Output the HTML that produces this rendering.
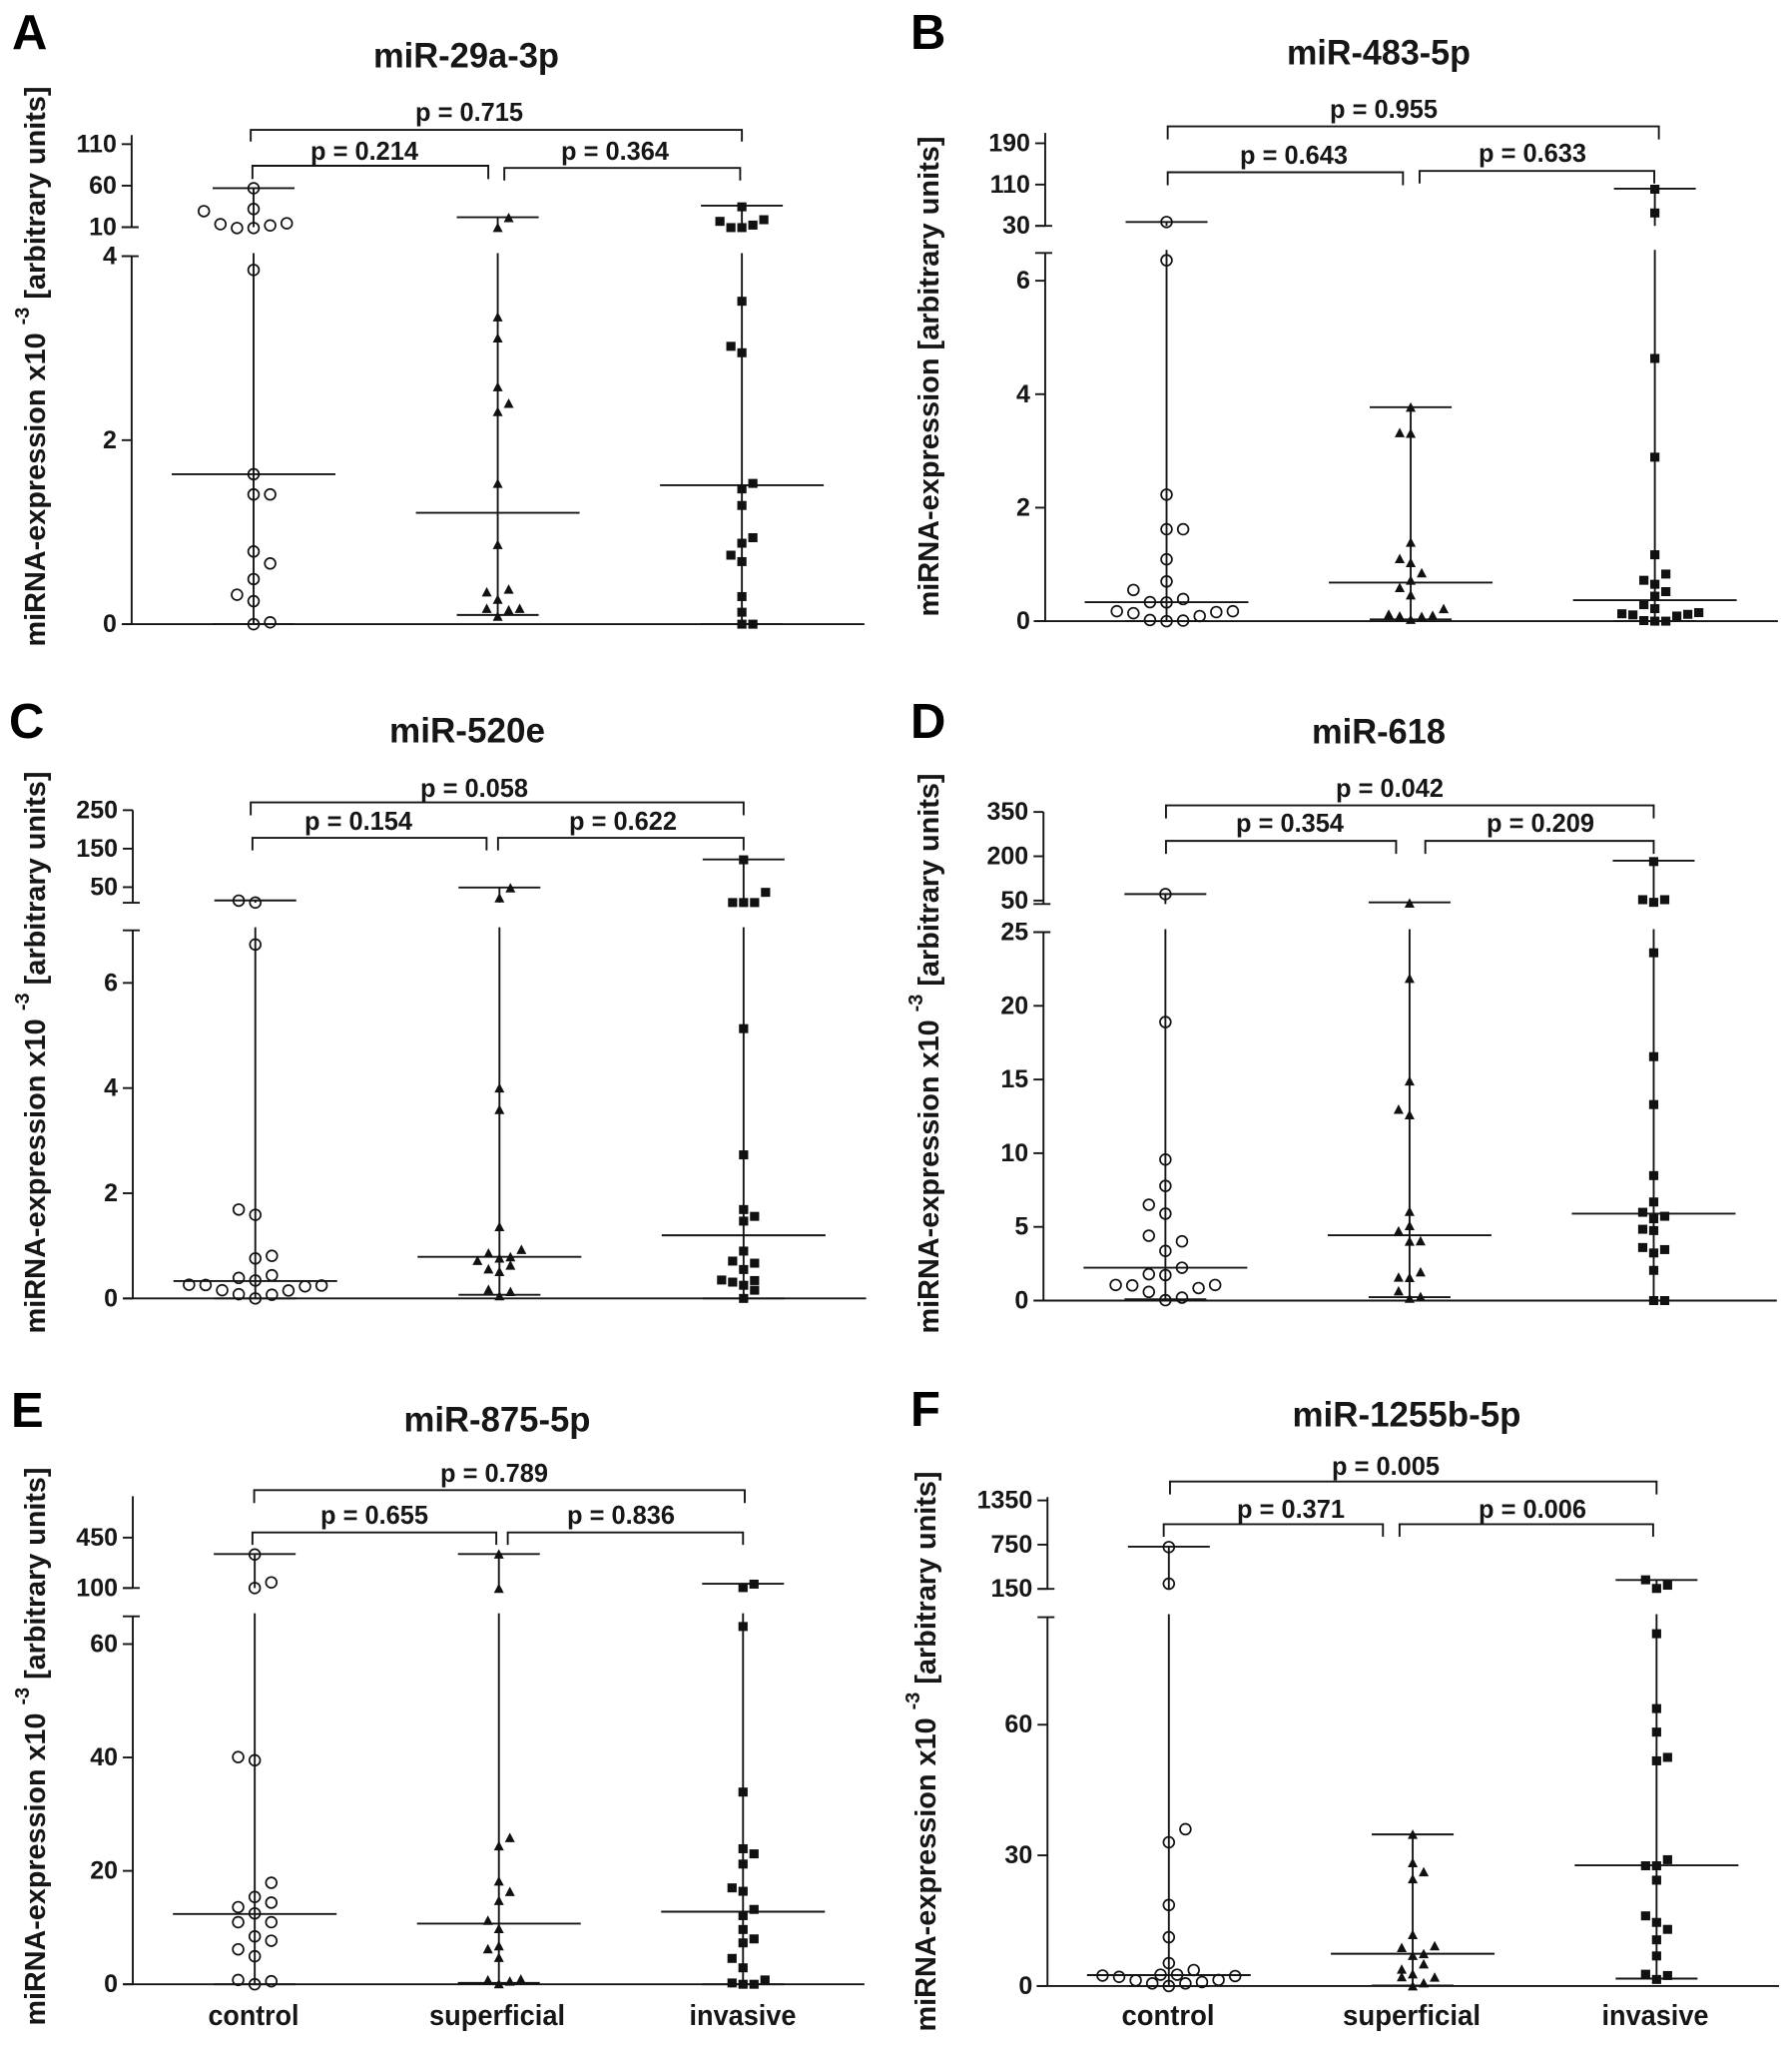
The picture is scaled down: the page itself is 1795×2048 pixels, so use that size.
<!DOCTYPE html>
<html lang="en">
<head>
<meta charset="utf-8">
<title>miRNA expression by tumour group</title>
<style>
html,body{margin:0;padding:0;background:#fff;}
svg{display:block;}
text{font-family:"Liberation Sans",Arial,sans-serif;font-weight:bold;fill:#161616;}
.letter{font-size:49px;fill:#000;}
.title{font-size:35px;text-anchor:middle;dominant-baseline:central;transform:translateY(-1px);}
.p{font-size:26px;text-anchor:middle;dominant-baseline:central;transform:translateY(1px);}
.yl{font-size:29px;text-anchor:middle;}
.xl{font-size:29px;text-anchor:middle;}
.tick{font-size:25px;text-anchor:end;dominant-baseline:central;}
</style>
</head>
<body>
<svg id="fig" width="1795" height="2048" viewBox="0 0 1795 2048" xmlns="http://www.w3.org/2000/svg">
<rect width="1795" height="2048" fill="#fff"/>

<text class="letter" x="12" y="49">A</text>
<text class="title" x="467" y="57" textLength="186" lengthAdjust="spacingAndGlyphs">miR-29a-3p</text>
<text class="yl" transform="translate(45,367) rotate(-90)" textLength="561" lengthAdjust="spacingAndGlyphs">miRNA-expression x10 <tspan font-size="20" dy="-16">-3</tspan><tspan dy="16">  [arbitrary units]</tspan></text>
<text class="p" x="470" y="111" textLength="108" lengthAdjust="spacingAndGlyphs">p = 0.715</text>
<text class="p" x="365" y="150" textLength="108" lengthAdjust="spacingAndGlyphs">p = 0.214</text>
<text class="p" x="616" y="150" textLength="108" lengthAdjust="spacingAndGlyphs">p = 0.364</text>

<text class="letter" x="912" y="49">B</text>
<text class="title" x="1381" y="54" textLength="184" lengthAdjust="spacingAndGlyphs">miR-483-5p</text>
<text class="yl" transform="translate(940,377) rotate(-90)" textLength="481" lengthAdjust="spacingAndGlyphs">miRNA-expression [arbitrary units]</text>
<text class="p" x="1386" y="108" textLength="108" lengthAdjust="spacingAndGlyphs">p = 0.955</text>
<text class="p" x="1296" y="154" textLength="108" lengthAdjust="spacingAndGlyphs">p = 0.643</text>
<text class="p" x="1535" y="152" textLength="108" lengthAdjust="spacingAndGlyphs">p = 0.633</text>

<text class="letter" x="9" y="739">C</text>
<text class="title" x="468" y="733" textLength="156" lengthAdjust="spacingAndGlyphs">miR-520e</text>
<text class="yl" transform="translate(45,1054) rotate(-90)" textLength="563" lengthAdjust="spacingAndGlyphs">miRNA-expression x10 <tspan font-size="20" dy="-16">-3</tspan><tspan dy="16">  [arbitrary units]</tspan></text>
<text class="p" x="475" y="788" textLength="108" lengthAdjust="spacingAndGlyphs">p = 0.058</text>
<text class="p" x="359" y="821" textLength="108" lengthAdjust="spacingAndGlyphs">p = 0.154</text>
<text class="p" x="624" y="821" textLength="108" lengthAdjust="spacingAndGlyphs">p = 0.622</text>

<text class="letter" x="912" y="739">D</text>
<text class="title" x="1381" y="734" textLength="134" lengthAdjust="spacingAndGlyphs">miR-618</text>
<text class="yl" transform="translate(940,1055) rotate(-90)" textLength="561" lengthAdjust="spacingAndGlyphs">miRNA-expression x10 <tspan font-size="20" dy="-16">-3</tspan><tspan dy="16">  [arbitrary units]</tspan></text>
<text class="p" x="1392" y="788" textLength="108" lengthAdjust="spacingAndGlyphs">p = 0.042</text>
<text class="p" x="1292" y="823" textLength="108" lengthAdjust="spacingAndGlyphs">p = 0.354</text>
<text class="p" x="1543" y="823" textLength="108" lengthAdjust="spacingAndGlyphs">p = 0.209</text>

<text class="letter" x="11" y="1429">E</text>
<text class="title" x="498" y="1423" textLength="187" lengthAdjust="spacingAndGlyphs">miR-875-5p</text>
<text class="yl" transform="translate(45,1749) rotate(-90)" textLength="559" lengthAdjust="spacingAndGlyphs">miRNA-expression x10 <tspan font-size="20" dy="-16">-3</tspan><tspan dy="16">  [arbitrary units]</tspan></text>
<text class="p" x="495" y="1474" textLength="108" lengthAdjust="spacingAndGlyphs">p = 0.789</text>
<text class="p" x="375" y="1516" textLength="108" lengthAdjust="spacingAndGlyphs">p = 0.655</text>
<text class="p" x="622" y="1516" textLength="108" lengthAdjust="spacingAndGlyphs">p = 0.836</text>
<text class="xl" x="254" y="2028" textLength="91" lengthAdjust="spacingAndGlyphs">control</text>
<text class="xl" x="498" y="2028" textLength="136" lengthAdjust="spacingAndGlyphs">superficial</text>
<text class="xl" x="744" y="2028" textLength="107" lengthAdjust="spacingAndGlyphs">invasive</text>

<text class="letter" x="912" y="1428">F</text>
<text class="title" x="1409" y="1418" textLength="229" lengthAdjust="spacingAndGlyphs">miR-1255b-5p</text>
<text class="yl" transform="translate(937,1754) rotate(-90)" textLength="561" lengthAdjust="spacingAndGlyphs">miRNA-expression x10 <tspan font-size="20" dy="-16">-3</tspan><tspan dy="16">  [arbitrary units]</tspan></text>
<text class="p" x="1388" y="1467" textLength="108" lengthAdjust="spacingAndGlyphs">p = 0.005</text>
<text class="p" x="1293" y="1510" textLength="108" lengthAdjust="spacingAndGlyphs">p = 0.371</text>
<text class="p" x="1535" y="1510" textLength="108" lengthAdjust="spacingAndGlyphs">p = 0.006</text>
<text class="xl" x="1170" y="2028" textLength="93" lengthAdjust="spacingAndGlyphs">control</text>
<text class="xl" x="1414" y="2028" textLength="138" lengthAdjust="spacingAndGlyphs">superficial</text>
<text class="xl" x="1658" y="2028" textLength="107" lengthAdjust="spacingAndGlyphs">invasive</text>
</svg>

<script>
// ---- Panel A: miR-29a-3p ----
const aLowTicks = [0, 2, 4];
const aHighTicks = [10, 60, 110];
const aControlValues = [3.85, 1.63, 1.41, 1.41, 0.79, 0.66, 0.49, 0.32, 0.25, 0.0, 0.02, 56.9, 31.9, 29.3, 13.6, 9, 9, 12.1, 14.7];
const aControlSlots = [0, 0, 0, 1, 0, 1, 0, -1, 0, 0, 1, 0, 0, -3, -2, -1, 0, 1, 2];
const aSuperficialValues = [3.34, 3.11, 2.58, 2.40, 2.31, 1.53, 0.865, 0.38, 0.35, 0.27, 0.17, 0.155, 0.17, 0.085, 21.5, 9.5];
const aSuperficialSlots = [0, 0, 0, 1, 0, 0, 0, 1, -1, 0, -1, 1, 2, 0, 1, 0];
const aInvasiveValues = [3.51, 3.02, 2.95, 1.53, 1.47, 1.29, 0.94, 0.88, 0.75, 0.68, 0.30, 0.13, 0, 0, 34.5, 17, 9.5, 9.5, 12.5, 19];
const aInvasiveSlots = [0, -1, 0, 1, 0, 0, 1, 0, -1, 0, 0, 0, 0, 1, 0, -2, -1, 0, 1, 2];
const aMedians = [1.63, 1.21, 1.51];
const aMins = [0, 0.10, 0];
const aMaxs = [57, 22, 36];

// ---- Panel B: miR-483-5p ----
const bLowTicks = [0, 2, 4, 6];
const bHighTicks = [30, 110, 190];
const bControlValues = [37.5, 6.36, 2.23, 1.62, 1.62, 1.09, 0.70, 0.55, 0.335, 0.33, 0.39, 0.175, 0.14, 0.02, 0, 0.01, 0.09, 0.16, 0.175];
const bControlSlots = [0, 0, 0, 0, 1, 0, 0, -2, -1, 0, 1, -3, -2, -1, 0, 1, 2, 3, 4];
const bSuperficialValues = [3.77, 3.31, 3.32, 1.39, 1.10, 1.03, 0.85, 0.72, 0.59, 0.46, 0.22, 0.12, 0.09, 0.03, 0.08, 0.10];
const bSuperficialSlots = [0, 0, -1, 0, -1, 0, 1, 0, -1, 0, 3, -2, -1, 0, 1, 2];
const bInvasiveValues = [101, 55, 4.63, 2.89, 1.17, 0.83, 0.72, 0.65, 0.52, 0.44, 0.29, 0.22, 0.13, 0.11, 0.01, 0, 0, 0.09, 0.12, 0.15];
const bInvasiveSlots = [0, 0, 0, 0, 0, 1, -1, 0, 1, 0, -1, 0, -3, -2, -1, 0, 1, 2, 3, 4];
const bMedians = [0.335, 0.68, 0.37];
const bMins = [0, 0.03, 0];
const bMaxs = [37.5, 3.77, 102];

// ---- Panel C: miR-520e ----
const cLowTicks = [0, 2, 4, 6];
const cHighTicks = [50, 150, 250];
const cControlValues = [15, 10, 6.73, 1.69, 1.59, 0.81, 0.76, 0.44, 0.39, 0.34, 0.26, 0.255, 0.156, 0.08, 0, 0.07, 0.15, 0.23, 0.245];
const cControlSlots = [-1, 0, 0, -1, 0, 1, 0, 1, -1, 0, -4, -3, -2, -1, 0, 1, 2, 3, 4];
const cSuperficialValues = [48, 22, 4.0, 3.59, 1.365, 0.93, 0.86, 0.79, 0.765, 0.72, 0.63, 0.56, 0.51, 0.17, 0.13, 0.05];
const cSuperficialSlots = [1, 0, 0, 0, 0, 2, -1, 1, 0, -2, 1, -1, 0, -1, 1, 0];
const cInvasiveValues = [121, 36.5, 10, 10, 10, 5.13, 2.73, 1.69, 1.56, 1.47, 0.90, 0.71, 0.67, 0.55, 0.35, 0.31, 0.34, 0.25, 0.156, 0];
const cInvasiveSlots = [0, 2, -1, 0, 1, 0, 0, 0, 1, 0, 0, -1, 1, 0, -2, -1, 1, 0, 1, 0];
const cMedians = [0.33, 0.79, 1.2];
const cMins = [0, 0.07, 0];
const cMaxs = [15.5, 49, 122];

// ---- Panel D: miR-618 ----
const dLowTicks = [0, 5, 10, 15, 20, 25];
const dHighTicks = [50, 200, 350];
const dControlValues = [72, 18.9, 9.57, 7.78, 6.5, 5.9, 4.4, 4.02, 3.37, 2.23, 1.79, 1.73, 1.06, 1.03, 0.59, 0.03, 0.2, 0.85, 1.06];
const dControlSlots = [0, 0, 0, 0, -1, 0, -1, 1, 0, 1, -1, 0, -3, -2, -1, 0, 1, 2, 3];
const dSuperficialValues = [41, 21.86, 14.9, 12.97, 12.6, 6.05, 5.08, 4.72, 4.02, 4.05, 1.94, 1.58, 1.56, 0.65, 0.15, 0.26];
const dSuperficialSlots = [0, 0, 0, -1, 0, 0, 0, -1, 0, 1, 1, -1, 0, -1, 0, 1];
const dInvasiveValues = [182, 53, 44, 53, 23.6, 16.55, 13.3, 8.48, 6.69, 5.99, 5.72, 5.55, 4.84, 4.75, 3.6, 3.46, 3.23, 2.05, 0, 0];
const dInvasiveSlots = [0, -1, 0, 1, 0, 0, 0, 0, 0, -1, 1, 0, -1, 0, -1, 1, 0, 0, 0, 1];
const dMedians = [2.23, 4.43, 5.9];
const dMins = [0.09, 0.23, 0];
const dMaxs = [72, 44, 185];

// ---- Panel E: miR-875-5p ----
const eLowTicks = [0, 20, 40, 60];
const eHighTicks = [100, 450];
const eControlValues = [333, 100, 139, 40.07, 39.5, 17.9, 15.4, 14.4, 13.6, 12.5, 10.95, 10.95, 8.44, 7.68, 6.16, 4.94, 0.76, 0, 0.53];
const eControlSlots = [0, 0, 1, -1, 0, 1, 0, 1, -1, 0, 1, -1, 0, 1, -1, 0, -1, 0, 1];
const eSuperficialValues = [336, 97, 25.86, 24.4, 18.2, 16.35, 14.75, 11.25, 9.8, 6.77, 6.24, 4.71, 0.76, 0.08, 0.53, 0.9];
const eSuperficialSlots = [0, 0, 1, 0, 0, 1, 0, -1, 0, 0, -1, 0, -1, 0, 1, 2];
const eInvasiveValues = [103, 127, 63.1, 33.9, 23.9, 23, 21.2, 17, 16.4, 13.2, 12.1, 9.66, 8, 7.3, 4.56, 2.9, 0.23, 0, 0, 0.76];
const eInvasiveSlots = [0, 1, 0, 0, 0, 1, 0, -1, 0, 1, 0, 0, 1, 0, -1, 0, -1, 0, 1, 2];
const eMedians = [12.4, 10.7, 12.8];
const eMins = [0, 0.23, 0];
const eMaxs = [336, 336, 130];

// ---- Panel F: miR-1255b-5p ----
const fLowTicks = [0, 30, 60];
const fHighTicks = [150, 750, 1350];
const fControlValues = [717, 220, 36, 33, 18.6, 11.2, 5.25, 3.66, 2.4, 2.1, 1.29, 0.6, 2.6, 0, 2.6, 0.6, 0.9, 1.39, 2.28];
const fControlSlots = [0, 0, 1, 0, 0, 0, 0, 1.5, -4, -3, -2, -1, -0.5, 0, 0.5, 1, 2, 3, 4];
const fSuperficialValues = [34.8, 28.3, 26.2, 24.6, 11.8, 9.2, 8.8, 7.4, 7, 5.05, 3.86, 2.77, 2.1, 2, 0.7, 0];
const fSuperficialSlots = [0, 0, 1, 0, 0, 2, -1, 1, 0, 1, -1, 0, -1, 2, 1, 0];
const fInvasiveValues = [273, 200, 156, 80.9, 63.7, 58.3, 52.5, 51.7, 29, 27.6, 27.6, 24.3, 16.1, 14.6, 13, 10.6, 6.9, 2.7, 2.4, 1.5];
const fInvasiveSlots = [-1, 1, 0, 0, 0, 0, 1, 0, 1, -1, 0, 0, -1, 0, 1, 0, 0, -1, 1, 0];
const fMedians = [2.5, 7.4, 27.7];
const fMins = [0, 0.1, 1.7];
const fMaxs = [723, 34.8, 270];

const categories = ['control', 'superficial', 'invasive'];
const SVGNS = 'http://www.w3.org/2000/svg';
const fig = document.getElementById('fig');
const INK = '#151515';
const KX = 0.5734;

function make(tag, attrs) {
  const el = document.createElementNS(SVGNS, tag);
  for (const k in attrs) el.setAttribute(k, attrs[k]);
  fig.appendChild(el);
  return el;
}
function line(x1, y1, x2, y2, w) {
  return make('line', {x1: x1, y1: y1, x2: x2, y2: y2, stroke: INK, 'stroke-width': w || 1.9});
}

function drawPanel(p) {
  const px = z => p.ox + z * KX;
  const py = z => p.oy + 1 + z * p.ky;
  // broken axis: lower linear segment, upper linear segment
  const yLow = v => py(p.base - v * p.lowPer);
  const yHigh = v => py(p.hiRefY - (v - p.hiRefV) * p.hiPer);
  const y = v => (v <= p.lowMax ? yLow(v) : yHigh(v));
  const ax = px(p.axisX);
  const capY = py(p.hiBaseY);
  const topY = py(p.hiTopY);

  // axes
  const xAxis = line(px(p.xStart), yLow(0), px(p.xEnd), yLow(0));
  
  
  const lowAxis = line(ax, yLow(p.lowMax), ax, yLow(0));
  
  
  const highAxis = line(ax, topY, ax, capY);
  
  
  const capLow = line(ax - 10, yLow(p.lowMax), ax + 7, yLow(p.lowMax));
  
  
  const capHigh = line(ax - 10, capY, ax + 7, capY);
  
  

  // ticks
  p.lowTicks.forEach(v => {
    const t = line(ax - 10, yLow(v), ax, yLow(v));
    
    
    const lab = make('text', {class: 'tick', x: ax - 15, y: yLow(v)});
    lab.textContent = v;
    
    
  });
  p.highTicks.forEach(v => {
    const t = line(ax - 10, yHigh(v), ax, yHigh(v));
    
    
    const lab = make('text', {class: 'tick', x: ax - 15, y: yHigh(v)});
    lab.textContent = v;
    
    
  });

  // brackets
  p.brackets.forEach((b, i) => {
    const d = 'M' + px(b.x1) + ' ' + py(b.leg1) + 'V' + py(b.y) + 'H' + px(b.x2) + 'V' + py(b.leg2);
    const path = make('path', {d: d, fill: 'none', stroke: INK, 'stroke-width': 1.9});
    
    
  });

  // groups
  categories.forEach((cat, g) => {
    const cx = px(p.c0 + g * p.dc);
    const top = p.maxs[g];
    const bottom = p.mins[g];
    // whisker, broken across the axis gap
    const lowEnd = top <= p.lowMax ? yLow(top) : yLow(p.lowMax) - 3;
    const wl = line(cx, yLow(bottom), cx, lowEnd);
    
    
    if (top > p.lowMax) {
      const wh = line(cx, yHigh(top), cx, capY);
      
      
    }
    const med = line(cx - 82, y(p.medians[g]), cx + 82, y(p.medians[g]));
    
    
    const minL = line(cx - 41, y(bottom), cx + 41, y(bottom));
    
    
    const maxL = line(cx - 41, y(top), cx + 41, y(top));
    
    

    const vals = p.values[g];
    const slots = p.slots[g];
    vals.forEach((v, i) => {
      const yy = y(v);
      let m;
      if (g === 0) {
        const mx = cx + slots[i] * 16.6;
        m = make('circle', {cx: mx, cy: yy, r: 5.4, fill: 'none', stroke: '#111', 'stroke-width': 1.7});
      } else if (g === 1) {
        const mx = cx + slots[i] * 11;
        m = make('polygon', {points: (mx - 5) + ',' + (yy + 4.5) + ' ' + (mx + 5) + ',' + (yy + 4.5) + ' ' + mx + ',' + (yy - 5), fill: '#111'});
      } else {
        const mx = cx + slots[i] * 11;
        m = make('rect', {x: mx - 4.6, y: yy - 4.5, width: 9.2, height: 9, fill: '#111'});
      }
      
      
    });
  });
}

drawPanel({
  id: 'a', ox: 0, oy: 0, ky: 0.4331, axisX: 230, xStart: 215, xEnd: 1510,
  base: 1441, lowPer: 212.75, lowMax: 4, hiRefV: 10, hiRefY: 523, hiPer: 1.92, hiBaseY: 523, hiTopY: 310,
  c0: 443, dc: 426.5, lowTicks: aLowTicks, highTicks: aHighTicks,
  values: [aControlValues, aSuperficialValues, aInvasiveValues],
  slots: [aControlSlots, aSuperficialSlots, aInvasiveSlots],
  medians: aMedians, mins: aMins, maxs: aMaxs,
  brackets: [{x1: 438, x2: 1296, y: 298, leg1: 325, leg2: 325}, {x1: 441, x2: 853, y: 381, leg1: 412, leg2: 412}, {x1: 881, x2: 1293, y: 386, leg1: 415, leg2: 415}]
});
drawPanel({
  id: 'b', ox: 895, oy: 0, ky: 0.4331, axisX: 265, xStart: 245, xEnd: 1545,
  base: 1434, lowPer: 131.2, lowMax: 6.49, hiRefV: 30, hiRefY: 520, hiPer: 1.194, hiBaseY: 520, hiTopY: 305,
  c0: 477, dc: 426.5, lowTicks: bLowTicks, highTicks: bHighTicks,
  values: [bControlValues, bSuperficialValues, bInvasiveValues],
  slots: [bControlSlots, bSuperficialSlots, bInvasiveSlots],
  medians: bMedians, mins: bMins, maxs: bMaxs,
  brackets: [{x1: 479, x2: 1337, y: 290, leg1: 320, leg2: 320}, {x1: 479, x2: 890, y: 396, leg1: 426, leg2: 426}, {x1: 919, x2: 1329, y: 393, leg1: 422, leg2: 422}]
});
drawPanel({
  id: 'c', ox: 0, oy: 680, ky: 0.4331, axisX: 232, xStart: 215, xEnd: 1513,
  base: 1430, lowPer: 121.6, lowMax: 7, hiRefV: 50, hiRefY: 479, hiPer: 0.89, hiBaseY: 515, hiTopY: 301,
  c0: 446, dc: 426.5, lowTicks: cLowTicks, highTicks: cHighTicks,
  values: [cControlValues, cSuperficialValues, cInvasiveValues],
  slots: [cControlSlots, cSuperficialSlots, cInvasiveSlots],
  medians: cMedians, mins: cMins, maxs: cMaxs,
  brackets: [{x1: 438, x2: 1299, y: 283, leg1: 313, leg2: 313}, {x1: 441, x2: 850, y: 365, leg1: 394, leg2: 394}, {x1: 870, x2: 1299, y: 365, leg1: 394, leg2: 394}]
});
drawPanel({
  id: 'd', ox: 895, oy: 680, ky: 0.4331, axisX: 262, xStart: 245, xEnd: 1543,
  base: 1435, lowPer: 34.08, lowMax: 25, hiRefV: 50, hiRefY: 510, hiPer: 0.683, hiBaseY: 518, hiTopY: 305,
  c0: 475, dc: 426.5, lowTicks: dLowTicks, highTicks: dHighTicks,
  values: [dControlValues, dSuperficialValues, dInvasiveValues],
  slots: [dControlSlots, dSuperficialSlots, dInvasiveSlots],
  medians: dMedians, mins: dMins, maxs: dMaxs,
  brackets: [{x1: 476, x2: 1328, y: 290, leg1: 320, leg2: 320}, {x1: 476, x2: 878, y: 372, leg1: 402, leg2: 402}, {x1: 929, x2: 1328, y: 372, leg1: 402, leg2: 402}]
});
drawPanel({
  id: 'e', ox: 0, oy: 1370, ky: 0.4318, axisX: 232, xStart: 215, xEnd: 1510,
  base: 1427, lowPer: 13.15, lowMax: 64.9, hiRefV: 100, hiRefY: 508, hiPer: 0.334, hiBaseY: 508, hiTopY: 295,
  c0: 445, dc: 426.5, lowTicks: eLowTicks, highTicks: eHighTicks,
  values: [eControlValues, eSuperficialValues, eInvasiveValues],
  slots: [eControlSlots, eSuperficialSlots, eInvasiveSlots],
  medians: eMedians, mins: eMins, maxs: eMaxs,
  brackets: [{x1: 444, x2: 1301, y: 281, leg1: 311, leg2: 311}, {x1: 441, x2: 867, y: 379, leg1: 408, leg2: 408}, {x1: 887, x2: 1298, y: 379, leg1: 408, leg2: 408}]
});
drawPanel({
  id: 'f', ox: 895, oy: 1370, ky: 0.4318, axisX: 269, xStart: 250, xEnd: 1547,
  base: 1431, lowPer: 10.1, lowMax: 84.7, hiRefV: 150, hiRefY: 510, hiPer: 0.171, hiBaseY: 510, hiTopY: 297,
  c0: 481, dc: 426, lowTicks: fLowTicks, highTicks: fHighTicks,
  values: [fControlValues, fSuperficialValues, fInvasiveValues],
  slots: [fControlSlots, fSuperficialSlots, fInvasiveSlots],
  medians: fMedians, mins: fMins, maxs: fMaxs,
  brackets: [{x1: 483, x2: 1333, y: 261, leg1: 291, leg2: 291}, {x1: 472, x2: 855, y: 360, leg1: 389, leg2: 389}, {x1: 884, x2: 1327, y: 360, leg1: 389, leg2: 389}]
});
</script>
</body>
</html>
